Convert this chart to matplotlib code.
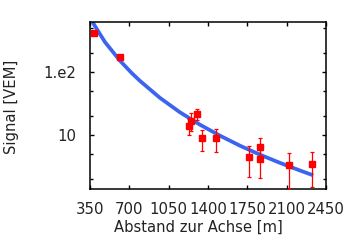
import matplotlib
matplotlib.use("Agg")
import matplotlib.pyplot as plt
from matplotlib.ticker import FixedLocator, FixedFormatter, NullFormatter

# measured stations
dist = [386, 621, 1235, 1246, 1299, 1351, 1468, 1768, 1860, 1863, 2123, 2328]
signal = [416, 170, 13.9, 16.9, 21.3, 8.86, 8.86, 4.43, 6.38, 4.11, 3.30, 3.43]
sig_err = [20, 9, 3.9, 5.2, 4.3, 3.2, 3.4, 2.25, 2.5, 2.05, 1.9, 1.95]

# fitted lateral distribution
fit_r = [372, 483, 617, 721, 795, 973, 1151, 1329, 1507, 1685, 1863, 2041, 2219, 2337]
fit_s = [622, 299, 151, 96.4, 72.2, 38.8, 22.9, 14.57, 9.75, 6.76, 4.87, 3.61, 2.73, 2.29]

xticks = [350, 700, 1050, 1400, 1750, 2100, 2450]
yticks = [10, 100]
ytick_labels = ["10", "1.e2"]
yminor = [2, 5, 20, 50, 200, 500]

plt.rcParams['font.family'] = ['DejaVu Sans']

fig = plt.figure(figsize=(3.6, 2.5), dpi=100)
ax = fig.add_axes([90/360, 1-189/250, (326-90)/360, (189-22)/250])

ax.plot(fit_r, fit_s, color='#3c64f0', lw=2.7, solid_capstyle='butt',
        solid_joinstyle='round', zorder=2)
ax.errorbar(dist, signal, yerr=sig_err, fmt='s', color='#ff0000', ms=4.8,
            mec='#ff0000', ecolor='#ff0000', elinewidth=0.9, capsize=1.6,
            capthick=0.9, zorder=3)

ax.set_yscale('log')
ax.set_xlim(350, 2450)
ax.set_ylim(1.39, 622)
ax.xaxis.set_major_locator(FixedLocator(xticks))
ax.set_xticklabels([str(t) for t in xticks])
ax.yaxis.set_major_locator(FixedLocator(yticks))
ax.yaxis.set_major_formatter(FixedFormatter(ytick_labels))
ax.yaxis.set_minor_locator(FixedLocator(yminor))
ax.yaxis.set_minor_formatter(NullFormatter())

for s in ax.spines.values():
    s.set_linewidth(1.1)
ax.tick_params(which='both', direction='in', top=True, right=True, width=1.0)
ax.tick_params(which='major', length=2.8, labelsize=10.7, labelcolor='#222222')
ax.tick_params(which='minor', length=2.2)
ax.tick_params(axis='x', pad=9.5)
ax.tick_params(axis='y', pad=10)

fig.text(198.5/360, 1-227/250, "Abstand zur Achse [m]", fontsize=10.6,
         ha='center', va='center', color='#222222')
fig.text(12/360, 1-107/250, "Signal [VEM]", fontsize=10.6, rotation=90,
         ha='center', va='center', color='#222222')

fig.savefig("out.png", dpi=100)
